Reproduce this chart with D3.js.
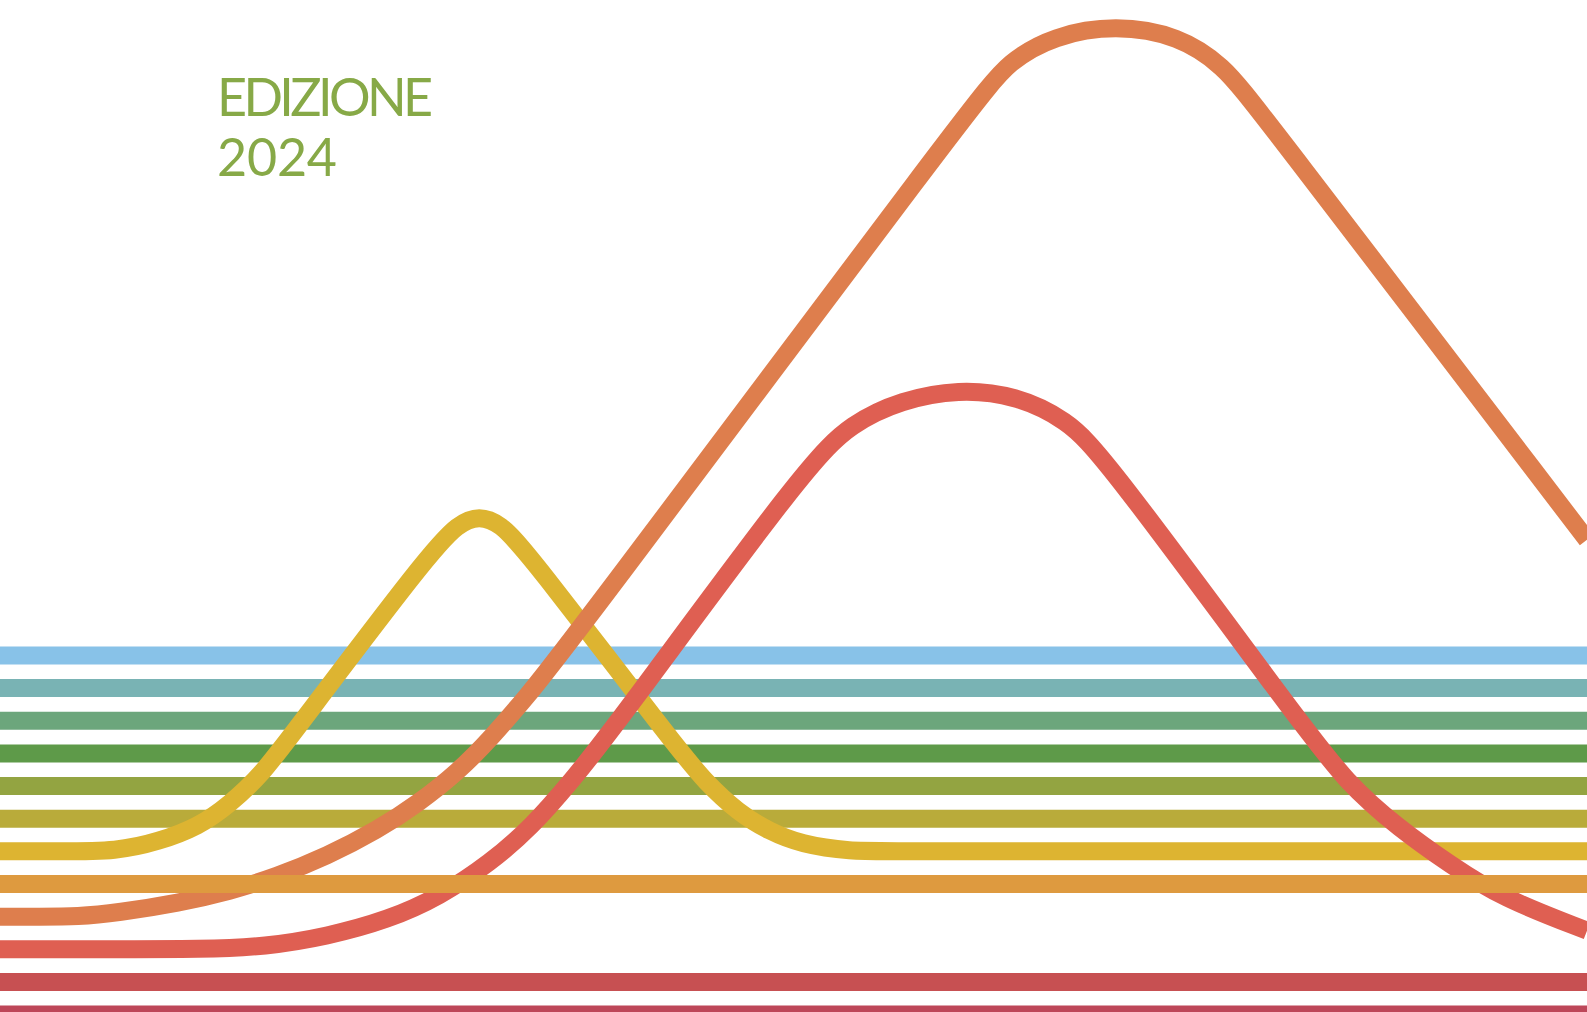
<!DOCTYPE html>
<html>
<head>
<meta charset="utf-8">
<script src="https://cdn.jsdelivr.net/npm/d3@7"></script>
<style>
  body { margin: 0; background: #fff; overflow: hidden; }
  #chart text { font-family: Lato, "Open Sans", sans-serif; font-weight: 400; }
</style>
</head>
<body>
<div id="chart"></div>
<script>
var width = 1587,
    height = 1012;

// one horizontal band per row, top to bottom, baseline level (bottom row = 0)
var rowNames = ["blue", "teal", "sage", "green", "olive", "mustard", "yellow", "amber", "orange", "red", "crimson", "wine"];
var rowLevels = [11, 10, 9, 8, 7, 6, 5, 4, 3, 2, 1, 0];
var rowColors = ["#88c2e8", "#79b3b4", "#6ca67c", "#5e9a49", "#93a441", "#b9ab3a", "#ddb431", "#de9a3f", "#de7e4d", "#df5f52", "#c75052", "#bd4759"];

// rows that rise into a bump: [x (% of width), level]
var yellowCurve = [[0, 5], [3.7, 5], [7.4, 5], [10.0, 5.3], [12.5, 5.75], [14.5, 6.45], [16.5, 7.36], [18.5, 8.64],
  [27.0, 14.1], [28.9, 15.05], [30.2, 15.28], [31.5, 15.05], [33.2, 14.19],
  [42.6, 8.2], [44.5, 7.1], [46.5, 6.2], [48.5, 5.6], [50.5, 5.22], [53.4, 5], [57, 5], [100, 5]];

var orangeCurve = [[0, 3], [2.5, 3], [4.9, 3], [7.4, 3.12], [11.3, 3.42], [14.5, 3.78], [17.4, 4.22], [20.6, 4.85],
  [23.8, 5.66], [26.3, 6.45], [28.9, 7.45], [31.0, 8.5], [33.2, 9.75], [35.4, 11.05],
  [61.6, 28.07], [63.6, 29.2], [66.4, 29.98], [70.3, 30.32], [74.3, 29.98], [77.1, 29.05], [79.0, 27.92],
  [100, 14.54]];

var redCurve = [[0, 2], [6.5, 2], [12.9, 2], [16.7, 2.08], [20.6, 2.39], [24.5, 2.91], [27.7, 3.61], [30.9, 4.65],
  [33.5, 5.75], [36.0, 7.15], [38.6, 8.72],
  [50.9, 16.87], [53.7, 18.12], [56.8, 18.82], [60.4, 19.16], [64.0, 18.97], [67.2, 18.22], [69.5, 17.14],
  [81.7, 9.09], [84.9, 7.07], [88.2, 5.69], [91.4, 4.59], [94.6, 3.58], [100, 2.57]];

var curves = { yellow: yellowCurve, orange: orangeCurve, red: redCurve };

// drawing order (the amber band sits on top of the two lower bumps)
var drawOrder = ["blue", "teal", "sage", "green", "olive", "mustard", "yellow", "orange", "red", "amber", "crimson", "wine"];

var titleLines = ["EDIZIONE", "2024"];

var x = d3.scaleLinear()
    .domain([0, 100])
    .range([0, width]);

var y = d3.scaleLinear()
    .domain([0, 31])
    .range([1014.6, 2.45]);

var line = d3.line()
    .x(function(d) { return x(d[0]); })
    .y(function(d) { return y(d[1]); })
    .curve(d3.curveBasis);

var svg = d3.select("#chart").append("svg")
    .attr("width", width)
    .attr("height", height)
    .attr("viewBox", "0 0 " + width + " " + height);

svg.append("rect")
    .attr("width", width)
    .attr("height", height)
    .attr("fill", "#fff");

var rows = drawOrder.map(function(name) {
  var i = rowNames.indexOf(name);
  return {
    name: name,
    color: rowColors[i],
    points: curves[name] || [[0, rowLevels[i]], [100, rowLevels[i]]]
  };
});

svg.append("g")
  .selectAll("path")
  .data(rows)
  .enter().append("path")
    .attr("fill", "none")
    .attr("stroke", function(d) { return d.color; })
    .attr("stroke-width", 18)
    .attr("stroke-linejoin", "round")
    .attr("d", function(d) { return line(d.points); });

var title = svg.append("g")
    .attr("transform", "translate(217,0)");

title.selectAll("text")
  .data(titleLines)
  .enter().append("text")
    .attr("x", 0)
    .attr("y", function(d, i) { return 116 + i * 59.5; })
    .attr("fill", "#87a947")
    .attr("font-size", 52)
    .attr("textLength", function(d, i) { return i === 0 ? 216 : 120; })
    .attr("lengthAdjust", "spacing")
    .text(function(d) { return d; });
</script>
</body>
</html>
